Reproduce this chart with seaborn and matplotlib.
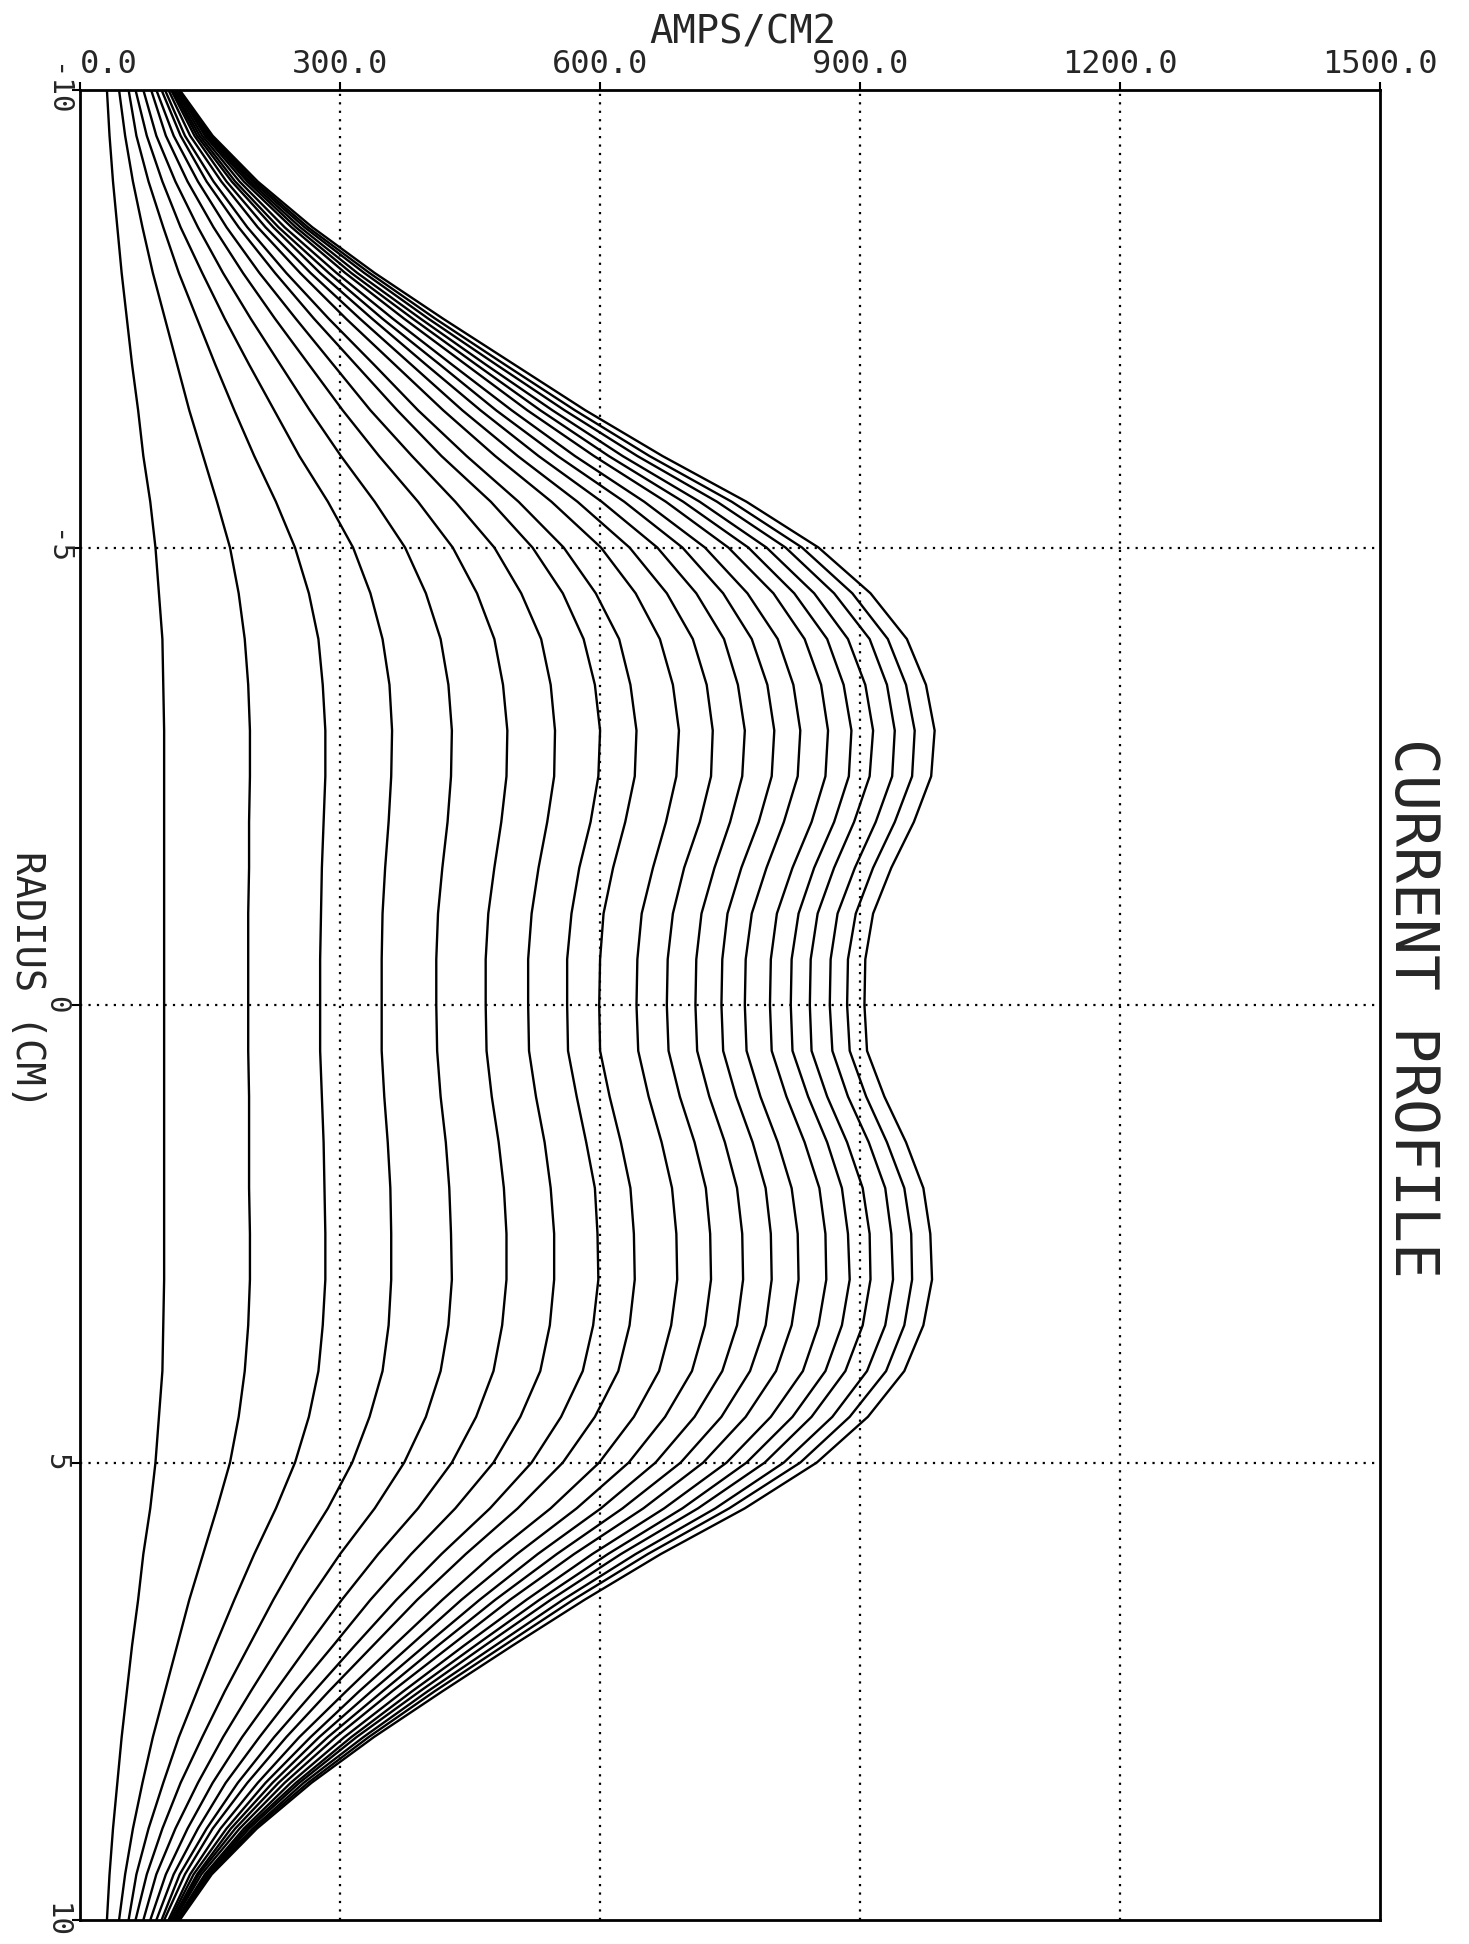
import pandas as pd
import seaborn as sns
import matplotlib.pyplot as plt

# 半径 (cm), 每 0.5 cm 一个点
radius = [-10, -9.5, -9, -8.5, -8, -7.5, -7, -6.5, -6, -5.5, -5, -4.5, -4, -3.5,
          -3, -2.5, -2, -1.5, -1, -0.5, 0, 0.5, 1, 1.5, 2, 2.5, 3,
          3.5, 4, 4.5, 5, 5.5, 6, 6.5, 7, 7.5, 8, 8.5, 9, 9.5, 10]

# 各时刻的电流密度分布 (A/cm2)
c01 = [31, 34, 38, 43, 48, 54, 60, 67, 73, 81, 87, 91, 95, 96,
       97, 97, 97, 97, 97, 97, 97, 97, 97, 97, 97, 97, 97,
       96, 95, 91, 87, 81, 73, 67, 60, 54, 48, 43, 38, 34, 31]
c02 = [45, 52, 61, 72, 84, 98, 112, 126, 142, 158, 173, 183, 190, 194,
       196, 196, 195, 195, 194, 194, 194, 194, 195, 195, 195, 196, 196,
       194, 190, 183, 173, 158, 142, 126, 112, 98, 84, 72, 61, 52, 45]
c03 = [56, 65, 79, 96, 114, 135, 156, 178, 201, 226, 248, 264, 275, 280,
       283, 283, 281, 279, 278, 277, 277, 277, 279, 281, 282, 283, 283,
       280, 275, 264, 248, 226, 201, 178, 156, 135, 114, 96, 79, 65, 56]
c04 = [64, 77, 95, 116, 141, 167, 195, 224, 253, 286, 315, 335, 349, 357,
       360, 359, 356, 352, 349, 348, 348, 348, 351, 355, 358, 359, 359,
       356, 349, 334, 314, 286, 253, 223, 195, 167, 141, 116, 95, 77, 64]
c05 = [73, 88, 110, 136, 165, 197, 231, 265, 301, 340, 375, 399, 416, 425,
       429, 428, 424, 418, 413, 411, 411, 412, 416, 422, 426, 428, 429,
       425, 416, 399, 374, 340, 300, 264, 230, 197, 165, 136, 110, 88, 73]
c06 = [82, 99, 124, 154, 188, 225, 264, 303, 345, 390, 430, 458, 478, 488,
       493, 492, 486, 478, 471, 468, 468, 469, 475, 483, 489, 492, 492,
       487, 477, 457, 429, 390, 344, 302, 263, 225, 187, 153, 124, 99, 81]
c07 = [88, 108, 136, 169, 207, 249, 292, 335, 383, 433, 478, 509, 532, 543,
       548, 547, 539, 529, 521, 517, 517, 518, 526, 536, 543, 547, 547,
       542, 531, 508, 477, 433, 382, 335, 292, 248, 207, 168, 136, 108, 88]
c08 = [94, 116, 146, 183, 225, 270, 318, 366, 417, 474, 522, 557, 581, 594,
       600, 598, 589, 576, 567, 562, 562, 563, 573, 584, 594, 597, 598,
       592, 580, 555, 521, 473, 417, 365, 317, 270, 224, 182, 146, 115, 94]
c09 = [98, 121, 154, 193, 238, 287, 339, 390, 446, 506, 558, 595, 622, 635,
       642, 640, 629, 615, 604, 600, 599, 600, 611, 624, 635, 639, 640,
       634, 621, 594, 557, 505, 445, 389, 338, 287, 238, 193, 153, 121, 97]
c10 = [102, 127, 163, 205, 254, 307, 363, 419, 479, 544, 601, 641, 669, 684,
       691, 688, 676, 661, 648, 643, 642, 644, 656, 671, 683, 688, 689,
       682, 668, 639, 599, 543, 477, 418, 362, 307, 253, 205, 162, 127, 102]
c11 = [105, 132, 169, 214, 266, 323, 382, 441, 505, 574, 634, 677, 707, 723,
       730, 728, 715, 697, 684, 678, 677, 679, 692, 709, 722, 727, 728,
       721, 706, 675, 633, 573, 504, 440, 381, 322, 266, 214, 169, 131, 104]
c12 = [107, 135, 175, 223, 277, 337, 399, 462, 529, 602, 666, 711, 743, 759,
       767, 764, 750, 732, 717, 711, 710, 712, 726, 744, 758, 764, 765,
       758, 741, 709, 664, 601, 528, 461, 398, 336, 276, 222, 174, 135, 106]
c13 = [108, 138, 179, 229, 287, 349, 415, 480, 551, 628, 695, 742, 775, 793,
       801, 798, 783, 763, 747, 741, 740, 742, 757, 776, 791, 797, 798,
       791, 773, 740, 693, 626, 550, 479, 413, 349, 286, 229, 179, 137, 108]
c14 = [110, 141, 184, 236, 296, 361, 429, 498, 571, 651, 721, 770, 805, 823,
       831, 828, 812, 792, 775, 768, 767, 769, 785, 805, 821, 828, 829,
       821, 803, 768, 719, 650, 570, 496, 428, 360, 295, 236, 184, 140, 109]
c15 = [112, 144, 189, 244, 306, 374, 445, 516, 593, 676, 748, 800, 836, 855,
       863, 860, 844, 822, 804, 797, 796, 798, 815, 836, 853, 860, 861,
       852, 834, 797, 746, 674, 591, 515, 443, 373, 305, 243, 189, 144, 111]
c16 = [113, 146, 193, 249, 313, 384, 457, 531, 610, 696, 771, 824, 862, 881,
       890, 887, 870, 847, 829, 821, 820, 822, 840, 862, 879, 886, 888,
       879, 860, 822, 769, 695, 609, 530, 456, 383, 313, 249, 192, 146, 112]
c17 = [114, 148, 196, 254, 320, 393, 468, 545, 626, 715, 792, 847, 886, 906,
       915, 911, 893, 870, 851, 843, 842, 844, 862, 885, 903, 911, 912,
       903, 883, 844, 790, 713, 624, 543, 467, 392, 319, 253, 195, 148, 113]
c18 = [114, 150, 199, 259, 328, 402, 480, 559, 643, 735, 814, 870, 911, 931,
       940, 937, 918, 894, 874, 866, 865, 868, 886, 910, 929, 936, 938,
       929, 908, 868, 812, 733, 641, 557, 479, 401, 327, 258, 199, 149, 114]
c19 = [114, 151, 202, 263, 334, 410, 490, 571, 657, 752, 833, 891, 932, 953,
       963, 960, 940, 915, 895, 886, 885, 888, 907, 931, 951, 959, 960,
       951, 930, 888, 831, 749, 655, 569, 489, 409, 333, 263, 201, 150, 114]
c20 = [115, 153, 205, 268, 340, 419, 501, 583, 672, 769, 852, 912, 954, 976,
       986, 982, 962, 936, 915, 906, 905, 908, 928, 953, 973, 981, 983,
       973, 951, 909, 850, 767, 670, 582, 499, 418, 339, 267, 204, 152, 115]

curves = [c01, c02, c03, c04, c05, c06, c07, c08, c09, c10,
          c11, c12, c13, c14, c15, c16, c17, c18, c19, c20]

x_ticks = [0, 300, 600, 900, 1200, 1500]
x_labels = ['0.0', '300.0', '600.0', '900.0', '1200.0', '1500.0']
y_ticks = [-10, -5, 0, 5, 10]
y_labels = ['-10', '-5', '0', '5', '10']

# 长表
rows = []
for k, vals in enumerate(curves):
    assert len(vals) == len(radius), k
    for r, v in zip(radius, vals):
        rows.append({'curve': k, 'radius': r, 'current': v})
df = pd.DataFrame(rows)

sns.set_theme(style='white')
plt.rcParams['font.family'] = ['DejaVu Sans Mono']

fig = plt.figure(figsize=(14.69, 19.44), dpi=100)
ax = fig.add_axes([0.0545, 0.0123, 0.885, 0.9414])

sns.lineplot(data=df, x='current', y='radius', hue='curve',
             palette=['black'] * len(curves), legend=False,
             estimator=None, sort=False, orient='y', linewidth=1.7, ax=ax)

ax.set_xlim(0, 1500)
ax.set_ylim(10, -10)

# 点状网格
dots = (0, (1, 2.8))
for xv in x_ticks[1:-1]:
    ax.axvline(xv, color='black', linestyle=dots, linewidth=1.6, zorder=1)
for yv in y_ticks[1:-1]:
    ax.axhline(yv, color='black', linestyle=dots, linewidth=1.6, zorder=1)

for s in ax.spines.values():
    s.set_color('black')
    s.set_linewidth(2.0)

ax.xaxis.tick_top()
ax.set_xticks(x_ticks)
ax.set_xticklabels(x_labels, fontsize=23)
ax.get_xticklabels()[0].set_horizontalalignment('left')
ax.set_yticks(y_ticks)
ax.set_yticklabels(y_labels, fontsize=21, rotation=-90, va='center')
ax.tick_params(axis='both', direction='out', length=6, width=1.5, color='black',
               top=True, bottom=False, left=True, right=False, pad=1)
ax.set_xlabel('')
ax.set_ylabel('')

ax.text(0.51, 1 + 58 / 1830, 'AMPS/CM2', transform=ax.transAxes,
        ha='center', va='center', fontsize=28)
fig.text(27 / 1469, 1 - 980 / 1944, 'RADIUS (CM)', rotation=-90,
         ha='center', va='center', fontsize=28)
fig.text(1412 / 1469, 1 - 1008 / 1944, 'CURRENT PROFILE', rotation=-90,
         ha='center', va='center', fontsize=43)

fig.savefig('out.png', dpi=100)
